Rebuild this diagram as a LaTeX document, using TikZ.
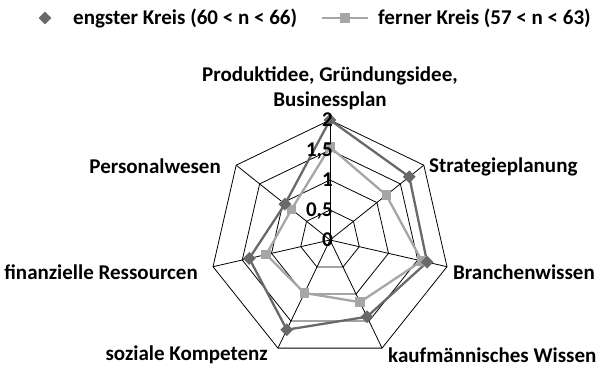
\documentclass[tikz,border=0pt]{standalone}
\usepackage{fontspec}
\setmainfont{Carlito}
\usetikzlibrary{shapes.geometric}
\definecolor{darkc}{RGB}{105,105,105}
\definecolor{lightc}{RGB}{166,166,166}
\begin{document}
\begin{tikzpicture}[x=1pt,y=1pt,
  gridline/.style={black, line width=0.8pt, line join=miter},
  darkser/.style={draw=darkc, line width=2.3pt, line join=round},
  lightser/.style={draw=lightc, line width=2.3pt, line join=round},
  dmark/.style={diamond, fill=darkc, inner sep=0pt, minimum size=13pt},
  smark/.style={rectangle, fill=lightc, inner sep=0pt, minimum size=9.5pt},
  lab/.style={font=\fontsize{21}{25}\selectfont\bfseries, inner sep=0pt},
  axlab/.style={lab, anchor=east, text height=12pt, text depth=0pt},
]
\useasboundingbox (0,0) rectangle (600,367);
\coordinate (O) at (330,127);
% rings
\foreach \r in {30,60,90,120} {
  \draw[gridline, shift={(O)}] (90:\r) \foreach \k in {1,...,6}{ -- ({90-\k*360/7}:\r)} -- cycle;
}
% spokes
\foreach \k in {0,...,6} {
  \path[shift={(O)}] ({90-\k*360/7}:120) coordinate (v\k);
  \draw[gridline] (O) -- (v\k);
}
% data
\foreach \v [count=\k from 0] in {2,1.69,1.66,1.42,1.66,1.38,0.96} {
  \path[shift={(O)}] ({90-\k*360/7}:{\v*60}) coordinate (d\k);
}
\foreach \v [count=\k from 0] in {1.55,1.2,1.57,1.15,0.98,1.09,0.82} {
  \path[shift={(O)}] ({90-\k*360/7}:{\v*60}) coordinate (l\k);
}
\draw[lightser] (l0) -- (l1) -- (l2) -- (l3) -- (l4) -- (l5) -- (l6) -- cycle;
\draw[darkser] (d0) -- (d1) -- (d2) -- (d3) -- (d4) -- (d5) -- (d6) -- cycle;
\foreach \k in {0,...,6} {
  \node[smark] (ml\k) at (l\k) {};
  \node[dmark] (md\k) at (d\k) {};
}
% axis labels
\node[axlab] (a0) at (333,126) {0};
\node[axlab] (a1) at (333,156) {0,5};
\node[axlab] (a2) at (333,186) {1};
\node[axlab] (a3) at (333,216) {1,5};
\node[axlab] (a4) at (333,246) {2};
% category labels
\node[lab, align=center] (c0) at (330,278.5) {Produktidee, Gründungsidee,\\Businessplan};
\node[lab, anchor=west] (c1) at (429,200) {Strategieplanung};
\node[lab, anchor=west] (c2) at (453,95) {Branchenwissen};
\node[lab, anchor=west] (c3) at (388,12) {kaufmännisches Wissen};
\node[lab, anchor=east] (c4) at (268,12) {soziale Kompetenz};
\node[lab, anchor=east] (c5) at (198,95) {finanzielle Ressourcen};
\node[lab, anchor=east] (c6) at (221,201) {Personalwesen};
% legend
\node[dmark] (ld) at (45,349) {};
\node[lab, anchor=west] (lt1) at (73,349) {engster Kreis (60 < n < 66)};
\coordinate (lla) at (322,349);
\coordinate (llb) at (368,349);
\draw[lightser] (lla) -- (llb);
\node[smark] (ls) at (345,349) {};
\node[lab, anchor=west] (lt2) at (378,349) {ferner Kreis (57 < n < 63)};
\end{tikzpicture}
\end{document}
